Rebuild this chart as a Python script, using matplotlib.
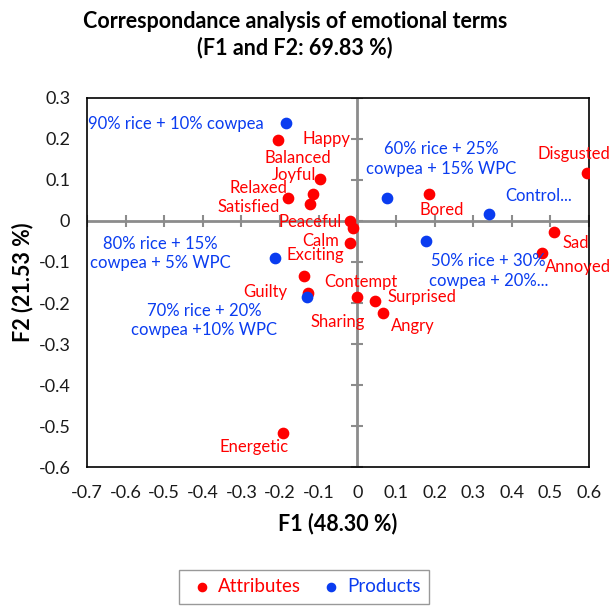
import numpy as np
import matplotlib
matplotlib.use('Agg')
import matplotlib.pyplot as plt

plt.rcParams['font.family'] = ['Lato', 'DejaVu Sans']

# attributes (red)
attr_names = ['Happy', 'Balanced', 'Joyful', 'Relaxed', 'Satisfied', 'Peaceful',
              'Calm', 'Exciting', 'Contempt', 'Guilty', 'Sharing', 'Surprised',
              'Angry', 'Bored', 'Disgusted', 'Sad', 'Annoyed', 'Energetic']
attr_f1 = [-0.205, -0.096, -0.116, -0.180, -0.122, -0.018,
           -0.010, -0.018, -0.139, -0.128, -0.001, 0.045,
           0.067, 0.185, 0.595, 0.510, 0.478, -0.193]
attr_f2 = [0.198, 0.102, 0.067, 0.057, 0.041, 0.000,
           -0.016, -0.054, -0.134, -0.176, -0.186, -0.195,
           -0.225, 0.067, 0.118, -0.026, -0.079, -0.518]

# products (blue)
prod_names = ['90% rice + 10% cowpea', '60% rice + 25%\ncowpea + 15% WPC', 'Control...',
              '80% rice + 15%\ncowpea + 5% WPC', '70% rice + 20%\ncowpea +10% WPC',
              '50% rice + 30%\ncowpea + 20%...']
prod_f1 = [-0.184, 0.077, 0.340, -0.214, -0.130, 0.179]
prod_f2 = [0.238, 0.056, 0.016, -0.091, -0.186, -0.049]

# label offsets in pixels (dx, dy)
attr_off = [(48, 1), (-22, 21), (-19, 19), (-29, 10), (-62, -3), (-40, -1),
            (-33, -13), (-35, -12), (57, -6), (-43, 1), (-19, -25), (47, 4),
            (30, -13), (13, -16), (-13, 19), (21, -11), (36, -14), (-29, -14)]
prod_off = [(-110, -1), (54, 39), (50, 18), (-114, 5), (-103, -23), (62, -30)]

xticks = np.round(np.arange(-0.7, 0.61, 0.1), 1)
yticks = np.round(np.arange(-0.6, 0.31, 0.1), 1)

RED = '#FF0000'
BLUE = '#0A3CF0'
GREY = '#8c8c8c'

fig = plt.figure(figsize=(6.11, 6.07), dpi=100)
ax = fig.add_axes([0.1424, 0.2306, 0.8216, 0.608])

# axes through origin with cross ticks
ax.axhline(0, color=GREY, lw=2, zorder=1)
ax.axvline(0, color=GREY, lw=2, zorder=1)
ax.plot(xticks, np.zeros_like(xticks), ls='none', marker='|', ms=9, mew=1.5,
        color=GREY, zorder=1)
ax.plot(np.zeros_like(yticks), yticks, ls='none', marker='_', ms=9, mew=1.5,
        color=GREY, zorder=1)

ax.scatter(attr_f1, attr_f2, s=55, color=RED, zorder=3, label='Attributes')
ax.scatter(prod_f1, prod_f2, s=55, color=BLUE, zorder=3, label='Products')

for n, x, y, (dx, dy) in zip(attr_names, attr_f1, attr_f2, attr_off):
    ax.annotate(n, (x, y), xytext=(dx, dy), textcoords='offset pixels',
                ha='center', va='center', color=RED, fontsize=12, zorder=4)
for n, x, y, (dx, dy) in zip(prod_names, prod_f1, prod_f2, prod_off):
    ax.annotate(n, (x, y), xytext=(dx, dy), textcoords='offset pixels',
                ha='center', va='center', color=BLUE, fontsize=12,
                linespacing=1.25, multialignment='center', zorder=4)

ax.set_xlim(-0.7, 0.6)
ax.set_ylim(-0.6, 0.3)
ax.set_xticks(xticks)
ax.set_yticks(yticks)
ax.set_xticklabels([('%g' % t) if t != 0 else '0' for t in xticks])
ax.set_yticklabels([('%g' % t) if t != 0 else '0' for t in yticks])
ax.tick_params(length=0, labelsize=13, colors='#1a1a1a')
ax.tick_params(axis='x', pad=13)
ax.tick_params(axis='y', pad=12)
for s in ax.spines.values():
    s.set_color('black')
    s.set_linewidth(1.2)

ax.set_xlabel('F1 (48.30 %)', fontsize=15.5, fontweight='bold', labelpad=8)
ax.set_ylabel('F2 (21.53 %)', fontsize=15.5, fontweight='bold', labelpad=4)

fig.text(0.483, 0.943, 'Correspondance analysis of emotional terms\n(F1 and F2: 69.83 %)',
         ha='center', va='center', fontsize=15.5, fontweight='bold', linespacing=1.3)

leg = fig.legend(loc='upper center', bbox_to_anchor=(0.497, 0.077), ncol=2,
                 fontsize=13.5, frameon=True, fancybox=False, edgecolor='#808080',
                 handletextpad=0.05, columnspacing=0.8, markerscale=0.8,
                 handlelength=1.6, borderpad=0.45)
for t, c in zip(leg.get_texts(), [RED, BLUE]):
    t.set_color(c)

fig.savefig('out.png', dpi=100)
